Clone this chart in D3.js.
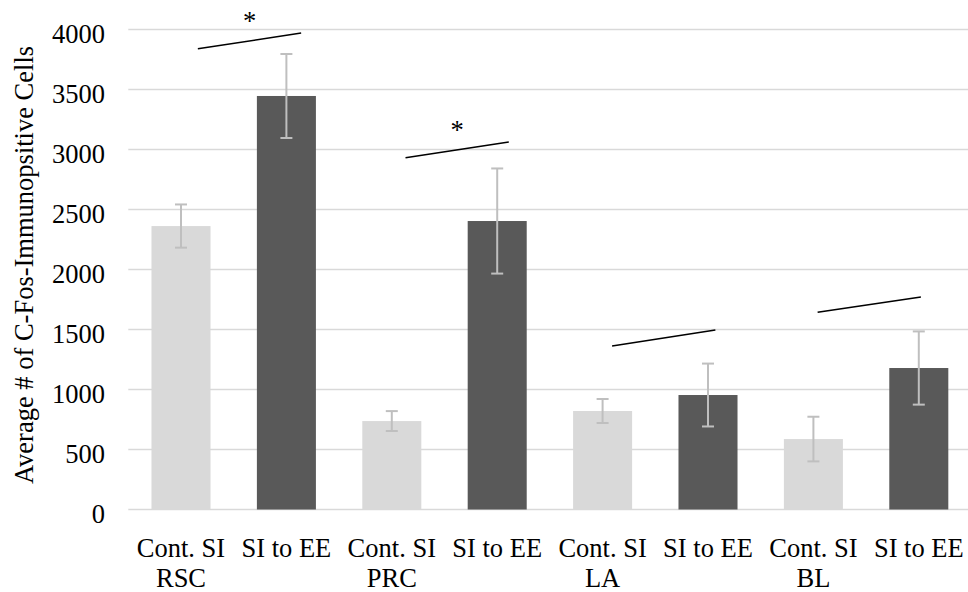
<!DOCTYPE html>
<html>
<head>
<meta charset="utf-8">
<script src="https://cdn.jsdelivr.net/npm/d3@7"></script>
<style>
  body { margin: 0; background: #fff; }
  svg text { font-family: "Liberation Serif", "Times New Roman", serif; fill: #000; }
</style>
</head>
<body>
<svg id="chart" width="968" height="592"></svg>
<script>
// bars, left to right
var treatments = ["Cont. SI", "SI to EE", "Cont. SI", "SI to EE", "Cont. SI", "SI to EE", "Cont. SI", "SI to EE"];
var regions = ["RSC", "", "PRC", "", "LA", "", "BL", ""];
var means = [2362, 3446, 737, 2404, 821, 954, 587, 1179];
var errors = [180, 350, 83, 438, 100, 262, 186, 305];
var yTicks = [0, 500, 1000, 1500, 2000, 2500, 3000, 3500, 4000];

// significance lines (x in bar index units, y in cell counts)
var sigFrom = [0.16, 2.13, 4.09, 6.04];
var sigTo = [1.14, 3.11, 5.07, 7.02];
var sigYFrom = [3840, 2932, 1362, 1644];
var sigYTo = [3970, 3062, 1496, 1771];
var sigMarks = ["*", "*", "", ""];

var plotLeft = 128.3, plotRight = 971.5, plotTop = 29.5, plotBottom = 509.5;
var light = "#d9d9d9", dark = "#595959";

var svg = d3.select("#chart");

var x = d3.scaleBand()
    .domain(d3.range(means.length))
    .range([plotLeft, plotRight])
    .paddingInner(0.44)
    .paddingOuter(0.22);

// same axis in bar index units, for the annotation lines
var xi = d3.scaleLinear()
    .domain([-0.5, means.length - 0.5])
    .range([plotLeft, plotRight]);

var y = d3.scaleLinear()
    .domain([0, 4000])
    .range([plotBottom, plotTop]);

// gridlines
svg.append("g").selectAll("line")
    .data(yTicks)
  .enter().append("line")
    .attr("x1", plotLeft)
    .attr("x2", plotRight)
    .attr("y1", d => y(d))
    .attr("y2", d => y(d))
    .attr("stroke", "#d9d9d9")
    .attr("stroke-width", 1.5);

// y tick labels
svg.append("g").selectAll("text")
    .data(yTicks)
  .enter().append("text")
    .attr("x", 105)
    .attr("y", d => y(d))
    .attr("dy", "0.5em")
    .attr("text-anchor", "end")
    .style("font-size", "26.5px")
    .text(d => d);

// y title
svg.append("text")
    .attr("transform", "rotate(-90)")
    .attr("x", -265)
    .attr("y", 33)
    .attr("text-anchor", "middle")
    .style("font-size", "26.5px")
    .text("Average # of C-Fos-Immunopsitive Cells");

// bars
svg.append("g").selectAll("rect")
    .data(means)
  .enter().append("rect")
    .attr("x", (d, i) => x(i))
    .attr("width", x.bandwidth())
    .attr("y", d => y(d))
    .attr("height", d => y(0) - y(d))
    .attr("fill", (d, i) => i % 2 === 0 ? light : dark);

// error bars
var err = svg.append("g")
    .attr("stroke", "#bfbfbf")
    .attr("stroke-width", 2);

means.forEach(function(m, i) {
  var cx = x(i) + x.bandwidth() / 2;
  err.append("line")
      .attr("x1", cx).attr("x2", cx)
      .attr("y1", y(m + errors[i])).attr("y2", y(m - errors[i]));
  [m + errors[i], m - errors[i]].forEach(function(v) {
    err.append("line")
        .attr("x1", cx - 6).attr("x2", cx + 6)
        .attr("y1", y(v)).attr("y2", y(v));
  });
});

// significance lines and stars
sigFrom.forEach(function(s, i) {
  svg.append("line")
      .attr("x1", xi(s)).attr("x2", xi(sigTo[i]))
      .attr("y1", y(sigYFrom[i])).attr("y2", y(sigYTo[i]))
      .attr("stroke", "#000")
      .attr("stroke-width", 1.5);
  if (sigMarks[i]) {
    svg.append("text")
        .attr("x", (xi(s) + xi(sigTo[i])) / 2)
        .attr("y", (y(sigYFrom[i]) + y(sigYTo[i])) / 2 - 11)
        .attr("text-anchor", "middle")
        .style("font-size", "26.5px")
        .text(sigMarks[i]);
  }
});

// x labels, two rows
var xl = svg.append("g").style("font-size", "26.5px").attr("text-anchor", "middle");
treatments.forEach(function(t, i) {
  var cx = x(i) + x.bandwidth() / 2;
  xl.append("text").attr("x", cx).attr("y", 556.7).text(t);
  if (regions[i]) {
    xl.append("text").attr("x", cx).attr("y", 586.7).text(regions[i]);
  }
});
</script>
</body>
</html>
